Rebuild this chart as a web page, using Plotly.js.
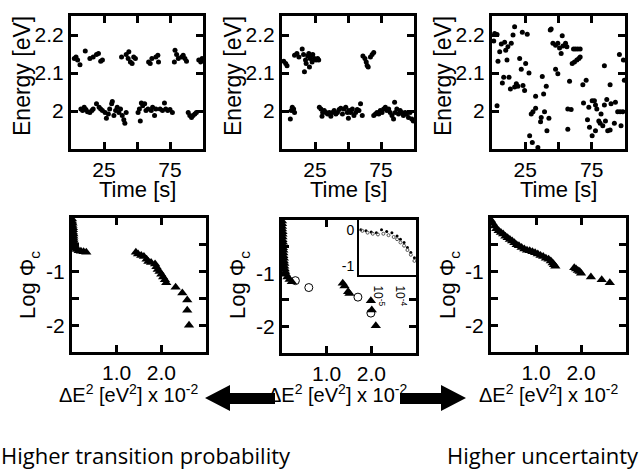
<!DOCTYPE html>
<html><head><meta charset="utf-8">
<script src="https://cdn.plot.ly/plotly-3.0.1.min.js"></script>
<style>html,body{margin:0;padding:0;background:#fff}</style>
</head><body><div id="chart" style="width:641px;height:469px"></div>
<script>
// ---------- data ----------
const timeTickVals = [25, 75];
const timeTickText = ['25', '75'];
const timeMinorVals = [50];
const energyTickVals = [2.0, 2.1, 2.2];
const energyTickText = ['2', '2.1', '2.2'];
const dETickVals = [1, 2];
const dETickText = ['1.0', '2.0'];
const logTickVals = [-2, -1];
const logTickText = ['-2', '-1'];
const logMinorVals = [-1.5, -0.5];
const insetXTickVals = [1e-5, 1e-4];
const insetXTickText = ['10<sup>-5</sup>', '10<sup>-4</sup>'];
const insetYTickVals = [0, -1];
const insetYTickText = ['0', '-1'];

// Panel 1 (top-left): time trace
const p1Time = [2.5,3.8,5,6.8,10.8,14.3,16.8,19.3,20.8,22.5,23.8,38.3,41.8,43.8,43.3,45,46.3,47.5,48.8,58.8,60,61.3,64.3,65.8,66.3,78.8,80,78.3,81.3,83.8,85,86.3,87.5,96.8,98.3,99.3,
  7.5,8.8,10,11.3,12.5,14.3,15.8,16.8,19.3,21.3,22.5,23.8,25.8,26.8,28.3,29.3,30.8,31.3,32.5,33.8,35,36.3,37.5,38.8,40,40.8,41.8,50.8,51.8,53.3,54.3,55.8,52.5,56.8,58.3,60.8,61.8,63.3,64.3,67.5,69.3,70.8,71.8,73.3,75,76.8,88.8,90,91.3,92.5,93.8,95];
const p1Energy = [2.138,2.142,2.134,2.122,2.158,2.138,2.142,2.149,2.151,2.131,2.134,2.142,2.149,2.156,2.138,2.129,2.125,2.142,2.138,2.129,2.125,2.138,2.142,2.147,2.129,2.160,2.149,2.129,2.138,2.142,2.147,2.138,2.131,2.134,2.129,2.138,
  2.005,2.001,2.010,2.004,1.998,1.996,2.001,2.005,2.019,2.010,2.005,2.001,1.996,1.981,1.992,2.005,2.019,2.025,1.988,2.001,2.010,1.996,2.005,1.988,1.977,1.968,1.996,1.996,2.005,2.021,2.014,2.019,1.974,2.001,2.005,2.001,2.010,1.988,2.005,2.005,2.001,2.021,2.005,2.001,2.004,1.996,1.996,1.988,1.983,1.988,1.992,1.996];

// Panel 2 (top-middle)
const p2Time = [1.3,2.8,3.8,9.5,11.3,12.8,15.3,16.3,17,17.8,18.3,19.5,20.3,20.8,21.3,22,22.8,23.3,24.5,25.8,27,27.8,
  61.3,62.8,63.8,64.5,65.3,67,68.3,69.5,
  6.3,7,7.8,8.8,9.5,
  28.3,29.5,30.3,30.8,32,33.3,34.5,35.8,37,38.3,39.5,40.8,42,43.3,44.5,45.8,47,48.3,49.5,50.3,50.8,52,53.3,54.5,55.8,57,58.3,59.5,60.8,
  69.5,70.8,72,73.3,74.5,75.8,77,78.3,79.5,80.8,82,83.3,84.5,85.3,85.8,87,88.3,89.5,90.8,92,93.3,94.3,95.8,97,98.3,99.5];
const p2Energy = [2.131,2.125,2.119,2.147,2.151,2.142,2.163,2.149,2.103,2.134,2.125,2.145,2.151,2.116,2.138,2.147,2.129,2.149,2.138,2.134,2.138,2.134,
  2.145,2.138,2.129,2.120,2.116,2.142,2.149,2.154,
  1.979,2.001,2.010,2.005,1.996,
  2.010,2.005,1.986,1.996,2.001,1.996,1.992,1.996,1.986,1.996,2.001,1.992,1.996,2.004,2.007,1.992,2.005,2.010,1.996,1.981,2.001,1.996,2.005,1.988,1.996,2.004,2.001,2.019,1.988,
  1.988,1.992,1.996,1.992,2.001,1.996,2.005,2.010,2.001,2.005,1.996,1.988,1.979,2.023,1.996,2.005,1.992,2.001,1.996,1.988,1.996,1.992,1.983,1.996,1.979,1.974];

// Panel 3 (top-right)
const p3Time = [2,3.8,1.3,7,9.5,12,14.5,15.8,17,22.8,26.5,5.8,10.3,4.5,11.3,20.8,25.3,22,27.8,8.8,12.8,7.8,13.8,17,18.3,19.5,23.3,24.5,37.8,40.8,38.8,32.8,
  43.8,44.5,45.8,47.8,49.5,50.8,52,53.3,55.3,52.8,56.3,61.3,62.8,64.5,66.3,60.3,62,63.8,65.3,66.3,47.8,49.5,58.3,68.3,70.8,84.5,95.8,98.8,99.5,88.8,
  3.8,29.5,30.8,32.8,37,36.5,39.5,42.8,41.3,57,59.5,57,68.8,72.8,75.3,77,77.8,78.8,82,84.5,86.3,89.5,92.8,94.5,96.3,98.3,
  71.8,73.3,75.3,77.8,80.3,81.3,83.3,85.3,87,88.8,92,97,28.3,30.3,34.5];
const p3Energy = [2.204,2.201,2.184,2.176,2.181,2.169,2.178,2.200,2.222,2.207,2.202,2.156,2.160,2.131,2.134,2.138,2.125,2.110,2.100,2.089,2.089,2.074,2.058,2.063,2.072,2.065,2.067,2.054,2.091,2.065,2.045,2.039,
  2.213,2.216,2.178,2.173,2.178,2.166,2.151,2.171,2.178,2.198,2.169,2.163,2.163,2.163,2.163,2.125,2.129,2.134,2.138,2.142,2.110,2.098,2.078,2.069,2.081,2.119,2.149,2.134,2.081,2.069,
  2.014,1.992,1.998,2.007,1.983,1.972,1.998,1.981,1.948,2.005,2.004,1.952,2.021,2.010,2.027,2.027,2.016,2.005,1.992,2.016,2.030,2.019,2.023,1.998,1.998,1.998,
  1.977,1.957,1.935,1.948,1.974,1.968,1.961,1.974,1.948,1.950,1.968,1.961,1.935,1.917,1.904];

// Panel 4 (bottom-left): triangles
const p4dE = [0,0,0.01,0.01,0.02,0.02,0.02,0.03,0.03,0.03,0.04,0.04,0.05,0.06,0.08,0.11,0.15,0.2,0.26,0.32,
  1.43,1.48,1.55,1.61,1.67,1.71,1.77,1.86,1.89,1.92,1.96,2.0,2.04,2.08,2.11,2.32,2.47,2.58,2.58,2.62];
const p4Log = [-0.02,-0.06,-0.1,-0.14,-0.18,-0.22,-0.26,-0.3,-0.34,-0.38,-0.42,-0.46,-0.5,-0.54,-0.57,-0.59,-0.61,-0.62,-0.63,-0.64,
  -0.64,-0.67,-0.70,-0.72,-0.77,-0.81,-0.83,-0.86,-0.91,-0.96,-1.0,-1.05,-1.1,-1.15,-1.21,-1.29,-1.4,-1.53,-1.72,-2.0];

// Panel 5 (bottom-middle): triangles and open circles
const p5dE = [0,0,0,0,0.01,0.01,0.01,0.01,0.02,0.02,0.02,0.03,0.03,0.03,0.04,0.04,0.05,0.05,0.06,0.07,0.09,0.12,0.17,0.22,
  1.36,1.40,1.48,1.51,1.99,2.01,2.10];
const p5Log = [-0.02,-0.07,-0.12,-0.17,-0.22,-0.27,-0.32,-0.37,-0.42,-0.47,-0.52,-0.57,-0.62,-0.67,-0.72,-0.77,-0.82,-0.87,-0.92,-0.97,-1.02,-1.07,-1.12,-1.16,
  -1.19,-1.24,-1.35,-1.38,-1.52,-1.69,-1.99];
const p5CircdE = [0.30, 0.60, 1.70, 1.99];
const p5CircLog = [-1.14, -1.27, -1.45, -1.75];

// Panel 5 inset
const insetAX = [1.45e-6,2.45e-6,4.17e-6,7.08e-6,1.20e-5,2.04e-5,3.47e-5,5.89e-5,8.32e-5,1.20e-4,1.70e-4,2.40e-4,3.47e-4];
const insetAY = [0.0,-0.03,-0.06,-0.08,0.0,-0.05,-0.08,-0.17,-0.26,-0.35,-0.49,-0.63,-0.77];
const insetBX = [1.70e-6,2.88e-6,4.90e-6,8.32e-6,1.45e-5,2.45e-5,4.17e-5,5.89e-5,8.32e-5,1.20e-4,1.70e-4,2.40e-4,3.47e-4];
const insetBY = [-0.03,-0.08,-0.11,-0.13,-0.11,-0.15,-0.2,-0.26,-0.35,-0.44,-0.56,-0.69,-0.86];

// Panel 6 (bottom-right)
const p6dE = [0,0.04,0.08,0.12,0.17,0.22,0.27,0.32,0.37,0.42,0.47,0.52,0.57,0.62,0.68,0.74,0.8,0.86,0.92,0.98,1.04,1.1,1.16,1.22,1.28,1.33,1.37,1.4,1.43,
  1.85,1.89,1.93,1.97,2.0,2.22,2.46,2.64];
const p6Log = [-0.04,-0.1,-0.15,-0.2,-0.24,-0.27,-0.3,-0.34,-0.37,-0.4,-0.43,-0.46,-0.5,-0.52,-0.55,-0.58,-0.6,-0.61,-0.63,-0.65,-0.67,-0.7,-0.72,-0.75,-0.77,-0.8,-0.84,-0.87,-0.9,
  -0.93,-0.95,-0.98,-1.0,-1.03,-1.1,-1.15,-1.21];

// ---------- layout helpers ----------
const W = 641, H = 469;
const dx = (a, b) => [a / W, b / W];
const dy = (top, bottom) => [1 - bottom / H, 1 - top / H];
const px = x => x / W, py = y => 1 - y / H;

const FAM = 'Liberation Sans';
const tickFont = {family: FAM, size: 21, color: '#000'};
const titleFont = {family: FAM, size: 22, color: '#000'};
const frame = {showline: true, linewidth: 3, linecolor: '#000', mirror: 'ticks', ticks: 'inside',
  ticklen: 7, tickwidth: 3, tickcolor: '#000', showgrid: false, zeroline: false, tickfont: tickFont,
  fixedrange: true, tickmode: 'array'};
const minorTicks = vals => ({tickmode: 'array', tickvals: vals, ticks: 'inside', ticklen: 7, tickwidth: 3,
  tickcolor: '#000', showgrid: false});

function topX(dom, anchor) { return Object.assign({}, frame, {domain: dom, anchor: anchor, range: [0, 100],
  tickvals: timeTickVals, ticktext: timeTickText, minor: minorTicks(timeMinorVals)}); }
function topY(dom, anchor) { return Object.assign({}, frame, {domain: dom, anchor: anchor, range: [1.9, 2.25],
  tickvals: energyTickVals, ticktext: energyTickText}); }
function botX(dom, anchor) { return Object.assign({}, frame, {domain: dom, anchor: anchor, range: [0, 3],
  tickvals: dETickVals, ticktext: dETickText}); }
function botY(dom, anchor) { return Object.assign({}, frame, {domain: dom, anchor: anchor, range: [-2.5, 0],
  tickvals: logTickVals, ticktext: logTickText, minor: minorTicks(logMinorVals)}); }

const dot = {color: '#000', size: 5};
const tri = {color: '#000', size: 9, symbol: 'triangle-up'};

const traces = [
  {x: p1Time, y: p1Energy, xaxis: 'x', yaxis: 'y', mode: 'markers', marker: dot},
  {x: p2Time, y: p2Energy, xaxis: 'x2', yaxis: 'y2', mode: 'markers', marker: dot},
  {x: p3Time, y: p3Energy, xaxis: 'x3', yaxis: 'y3', mode: 'markers', marker: dot},
  {x: p4dE, y: p4Log, xaxis: 'x4', yaxis: 'y4', mode: 'markers', marker: tri},
  {x: p5dE, y: p5Log, xaxis: 'x5', yaxis: 'y5', mode: 'markers', marker: tri},
  {x: p5CircdE, y: p5CircLog, xaxis: 'x5', yaxis: 'y5', mode: 'markers',
    marker: {symbol: 'circle-open', size: 8, color: '#000', line: {width: 1, color: '#000'}}},
  {x: p6dE, y: p6Log, xaxis: 'x6', yaxis: 'y6', mode: 'markers', marker: tri},
  {x: insetAX, y: insetAY, xaxis: 'x7', yaxis: 'y7', mode: 'markers', marker: {color: '#000', size: 3}},
  {x: insetBX, y: insetBY, xaxis: 'x7', yaxis: 'y7', mode: 'markers',
    marker: {symbol: 'circle-open', size: 3, color: '#555', line: {width: 1, color: '#555'}}}
];

const topRow = dy(16, 149), botRow = dy(218, 352), botRow5 = dy(220, 353);

function ann(text, x, y, font, angle) {
  return {text: text, x: px(x), y: py(y), xref: 'paper', yref: 'paper', xanchor: 'center', yanchor: 'middle',
    showarrow: false, font: font, textangle: angle || 0};
}
const annotations = [];
[22, 233, 443].forEach(x => annotations.push(ann('Energy [eV]', x, 76, {family: FAM, size: 23, color: '#000'}, -90)));
[137, 348, 558].forEach(x => annotations.push(ann('Time [s]', x, 189, titleFont)));
[29, 239, 449].forEach(x => annotations.push(ann('Log \u03A6<sub>c</sub>', x, 285, titleFont, -90)));
[128, 338, 548].forEach(x => annotations.push(ann('\u0394E<sup>2</sup> [eV<sup>2</sup>] x 10<sup>-2</sup>', x, 393,
  {family: FAM, size: 20, color: '#000'})));
annotations.push(ann('Higher transition probability', 146, 455, {family: 'Open Sans', size: 22, color: '#000'}));
annotations.push(ann('Higher uncertainty', 543, 455, {family: 'Open Sans', size: 22, color: '#000'}));

function poly(pts) { return 'M' + pts.map(p => px(p[0]) + ',' + py(p[1])).join(' L') + ' Z'; }
const shapes = [
  {type: 'path', xref: 'paper', yref: 'paper', fillcolor: '#000', line: {width: 0},
    path: poly([[205,398],[230,385],[230,393],[275,393],[275,404],[230,404],[230,411]])},
  {type: 'path', xref: 'paper', yref: 'paper', fillcolor: '#000', line: {width: 0},
    path: poly([[466,398],[441,385],[441,393],[400,393],[400,404],[441,404],[441,411]])}
];

const layout = {
  width: W, height: H, margin: {l: 0, r: 0, t: 0, b: 0}, paper_bgcolor: '#fff', plot_bgcolor: '#fff',
  showlegend: false, annotations: annotations, shapes: shapes,
  xaxis: topX(dx(71, 203), 'y'), yaxis: topY(topRow, 'x'),
  xaxis2: topX(dx(282, 414), 'y2'), yaxis2: topY(topRow, 'x2'),
  xaxis3: topX(dx(492, 625), 'y3'), yaxis3: topY(topRow, 'x3'),
  xaxis4: botX(dx(72, 206), 'y4'), yaxis4: botY(botRow, 'x4'),
  xaxis5: botX(dx(282, 416), 'y5'), yaxis5: botY(botRow5, 'x5'),
  xaxis6: botX(dx(491, 626), 'y6'), yaxis6: botY(botRow, 'x6'),
  xaxis7: {domain: dx(359, 416), anchor: 'y7', type: 'log', range: [-5.92, -3.39], showline: true, linewidth: 2,
    linecolor: '#000', mirror: true, ticks: '', showgrid: false, zeroline: false, tickmode: 'array',
    tickvals: insetXTickVals, ticktext: insetXTickText, tickfont: {family: FAM, size: 12, color: '#000'}, fixedrange: true},
  yaxis7: {domain: dy(220, 275), anchor: 'x7', range: [-1.25, 0.27], showline: true, linewidth: 2,
    linecolor: '#000', mirror: true, ticks: '', showgrid: false, zeroline: false, tickmode: 'array',
    tickvals: insetYTickVals, ticktext: insetYTickText, tickfont: {family: FAM, size: 14, color: '#000'}, fixedrange: true}
};

Plotly.newPlot('chart', traces, layout, {staticPlot: true, displayModeBar: false});
</script></body></html>
